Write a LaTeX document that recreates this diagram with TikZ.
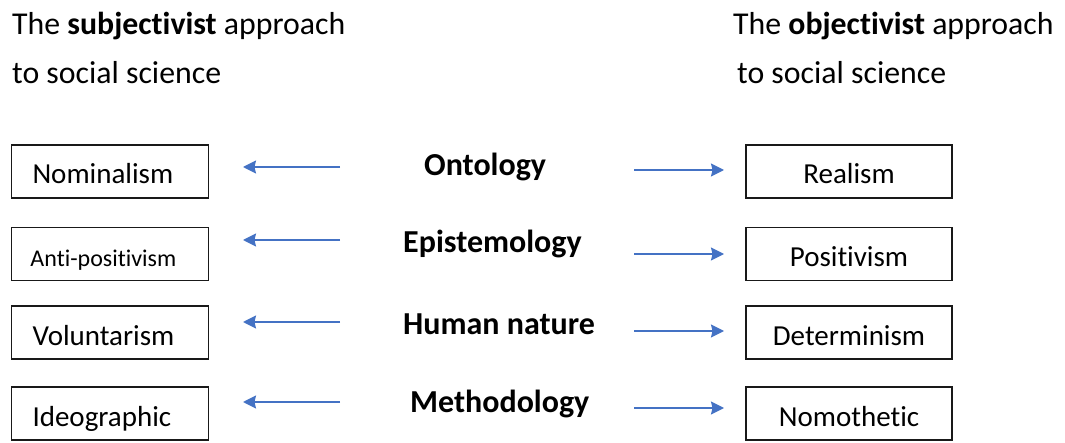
\documentclass[tikz,border=0pt]{standalone}
\usepackage{fontspec}
\setmainfont{Carlito}[Ligatures=NoCommon]
\usepackage{tikz}
\usetikzlibrary{arrows.meta,positioning}
\definecolor{arrowblue}{RGB}{68,114,196}
\definecolor{boxline}{RGB}{25,25,25}

\begin{document}
\begin{tikzpicture}[x=1pt,y=-1pt,
    headtext/.style={anchor=base west, inner sep=0pt, font=\fontsize{31.8}{37}\selectfont},
    dimtext/.style={anchor=base west, inner sep=0pt, font=\fontsize{32}{38}\selectfont\bfseries},
    leftbox/.style={draw=boxline, line width=1.4pt, inner xsep=21pt, inner ysep=0pt,
      text width=155pt, align=left, text height=39pt, text depth=14pt,
      font=\fontsize{29}{35}\selectfont},
    rightbox/.style={draw=boxline, line width=1.4pt, inner xsep=5pt, inner ysep=0pt,
      text width=196pt, align=center, text height=39pt, text depth=14pt,
      font=\fontsize{29}{35}\selectfont},
    toarrow/.style={arrowblue, line width=1.6pt, -{Stealth[length=13pt,width=13pt,inset=1.5pt]}}]
    \useasboundingbox (0,0) rectangle (1065,443);
    % headings
    \node[headtext] (subj) at (12,35) {The \textbf{subjectivist} approach};
    \node[headtext] (subjb) at (12,84) {to social science};
    \node[headtext] (obj) at (733,35) {The \textbf{objectivist} approach};
    \node[headtext] (objb) at (737,84) {to social science};
    % ontology
    \node[leftbox] (nomin) at (110,171.5) {Nominalism};
    \node[dimtext] (onto) at (424,176) {Ontology};
    \node[rightbox] (real) at (849,171.5) {Realism};
    \coordinate (ontoL) at (340,167);
    \coordinate (ontoR) at (634,170);
    \draw[toarrow] (ontoL) -- (243,167);
    \draw[toarrow] (ontoR) -- (724,170);
    % epistemology
    \node[leftbox, inner xsep=19pt, text width=159pt, font=\fontsize{24}{29}\selectfont] (antipos) at (110,254) {Anti-positivism};
    \node[dimtext] (epist) at (403,253) {Epistemology};
    \node[rightbox] (pos) at (849,254) {Positivism};
    \coordinate (epistL) at (340,240);
    \coordinate (epistR) at (634,254);
    \draw[toarrow] (epistL) -- (243,240);
    \draw[toarrow] (epistR) -- (724,254);
    % human nature
    \node[leftbox] (volunt) at (110,332.5) {Voluntarism};
    \node[dimtext] (human) at (403,335) {Human nature};
    \node[rightbox] (determ) at (849,332.5) {Determinism};
    \coordinate (humanL) at (340,322);
    \coordinate (humanR) at (634,331);
    \draw[toarrow] (humanL) -- (243,322);
    \draw[toarrow] (humanR) -- (724,331);
    % methodology
    \node[leftbox] (ideo) at (110,413.5) {Ideographic};
    \node[dimtext] (method) at (410,412) {Methodology};
    \node[rightbox] (nomoth) at (849,413.5) {Nomothetic};
    \coordinate (methodL) at (340,402);
    \coordinate (methodR) at (634,408);
    \draw[toarrow] (methodL) -- (243,402);
    \draw[toarrow] (methodR) -- (724,408);
  \end{tikzpicture}
\end{document}
